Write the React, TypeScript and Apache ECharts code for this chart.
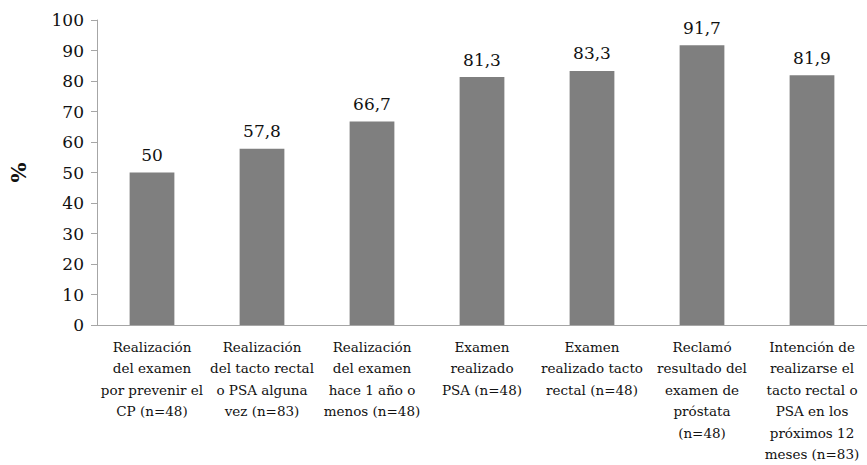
import React, { useEffect, useRef } from "react";
import * as echarts from "echarts";

const categories = [
  "Realización\ndel examen\npor prevenir el\nCP (n=48)",
  "Realización\ndel tacto rectal\no PSA alguna\nvez (n=83)",
  "Realización\ndel examen\nhace 1 año o\nmenos (n=48)",
  "Examen\nrealizado\nPSA (n=48)",
  "Examen\nrealizado tacto\nrectal (n=48)",
  "Reclamó\nresultado del\nexamen de\npróstata\n(n=48)",
  "Intención de\nrealizarse el\ntacto rectal o\nPSA en los\npróximos 12\nmeses (n=83)",
];
const values = [50, 57.8, 66.7, 81.3, 83.3, 91.7, 81.9];
const yTicks = { min: 0, max: 100, interval: 10 };
const yName = "%";

const FONT = "DejaVu Serif";

export default function App() {
  const ref = useRef<HTMLDivElement>(null);
  useEffect(() => {
    const chart = echarts.init(ref.current!, null, { renderer: "svg" });
    const txt = { fontFamily: FONT, color: "#111" };
    chart.setOption({
      animation: false,
      textStyle: { fontFamily: FONT },
      grid: { left: 95, right: -2, top: 20, bottom: 136 },
      xAxis: {
        type: "category",
        data: categories,
        axisLine: { lineStyle: { color: "#a6a6a6", width: 1 } },
        axisTick: { show: false },
        axisLabel: {
          ...txt,
          interval: 0,
          fontSize: 13.5,
          lineHeight: 21.5,
          margin: 11,
        },
      },
      yAxis: {
        type: "value",
        min: yTicks.min,
        max: yTicks.max,
        interval: yTicks.interval,
        name: yName,
        nameLocation: "middle",
        nameGap: 68,
        nameRotate: 90,
        nameTextStyle: { ...txt, fontSize: 21, fontWeight: "bold" },
        axisLine: { show: true, lineStyle: { color: "#a6a6a6", width: 1 } },
        axisTick: { show: true, length: 6, lineStyle: { color: "#a6a6a6" } },
        splitLine: { show: false },
        axisLabel: { ...txt, fontSize: 17, margin: 13 },
      },
      series: [
        {
          type: "bar",
          data: values,
          barWidth: "40.7%",
          itemStyle: { color: "#7f7f7f" },
          label: {
            ...txt,
            show: true,
            position: "top",
            distance: 9,
            fontSize: 17,
            formatter: (p: any) => String(p.value).replace(".", ","),
          },
        },
      ],
    });
    return () => chart.dispose();
  }, []);
  return (
    <div
      ref={ref}
      style={{ position: "fixed", left: 0, top: 0, width: 867, height: 465, background: "#fff" }}
    />
  );
}
